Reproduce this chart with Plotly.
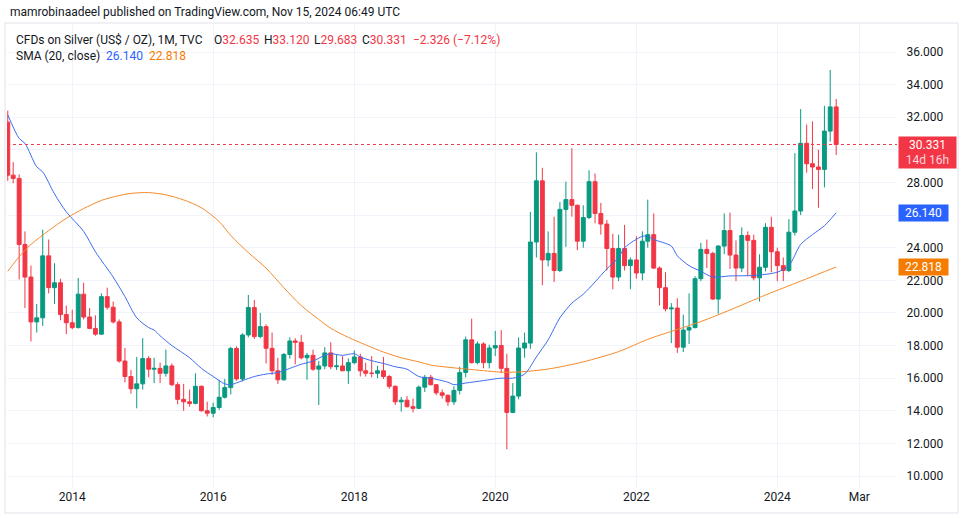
import pandas as pd
import plotly.graph_objects as go

# ---------------- data (monthly, Feb 2013 .. Nov 2024) ----------------
months = pd.date_range("2013-02-01", periods=142, freq="MS")

opens = [
    31.70, 28.45, 28.25, 24.20, 22.20, 19.45, 19.70, 23.50, 21.55, 21.85, 19.90,
    19.40, 19.10, 21.15, 19.75, 19.05, 18.70, 21.00, 20.35, 19.45, 17.05, 16.10, 15.35,
    15.65, 17.20, 16.55, 16.60, 16.30, 16.75, 15.60, 14.70, 14.55, 14.45, 15.50, 14.00,
    13.85, 14.20, 14.83, 15.42, 17.82, 15.95, 18.65, 20.33, 18.55, 19.16, 17.83, 16.45,
    15.90, 17.45, 18.28, 18.20, 17.25, 17.40, 16.55, 16.75, 17.55, 16.70, 16.75, 16.45,
    16.95, 17.30, 16.45, 16.30, 16.30, 16.45, 16.10, 15.50, 14.55, 14.65, 14.25, 14.15,
    15.45, 16.05, 15.60, 15.10, 14.95, 14.55, 15.25, 16.35, 18.35, 16.95, 18.10, 16.95,
    17.85, 18.00, 16.60, 13.90, 14.90, 17.85, 18.15, 24.35, 28.10, 23.25, 23.65, 22.60,
    26.35, 26.95, 26.60, 24.40, 25.85, 28.05, 26.10, 25.45, 23.95, 22.20, 23.95, 22.90,
    23.25, 22.45, 24.40, 24.80, 22.75, 21.55, 20.25, 20.30, 17.90, 18.95, 19.10, 22.10,
    23.90, 23.65, 20.85, 24.10, 25.05, 23.55, 22.75, 24.75, 24.45, 22.15, 22.80, 25.25,
    23.75, 22.90, 22.60, 24.95, 26.25, 30.40, 29.15, 28.95, 28.80, 31.15, 32.635,
]
highs = [
    32.40, 29.25, 28.50, 25.00, 22.90, 20.55, 25.10, 24.50, 23.05, 22.10, 20.45,
    20.20, 22.15, 21.85, 20.30, 19.85, 21.20, 21.55, 20.70, 19.60, 17.85, 16.50, 17.30,
    18.45, 17.35, 17.25, 16.95, 17.75, 16.90, 15.75, 15.65, 15.30, 16.30, 15.55, 14.55,
    14.50, 15.90, 15.95, 17.92, 17.95, 18.75, 21.10, 20.80, 20.00, 19.30, 18.80, 17.25,
    17.55, 18.50, 18.45, 18.65, 17.55, 17.75, 17.05, 17.90, 18.20, 17.45, 17.35, 17.20,
    17.70, 17.50, 16.95, 17.35, 16.75, 17.30, 16.20, 15.55, 14.85, 14.90, 14.75, 15.55,
    16.20, 16.20, 15.60, 15.30, 15.00, 15.50, 16.70, 18.55, 19.65, 18.25, 18.20, 18.05,
    18.90, 18.95, 17.50, 15.70, 18.50, 18.80, 26.20, 29.85, 28.90, 25.00, 25.90, 26.80,
    28.05, 30.10, 26.65, 26.60, 28.75, 28.55, 26.75, 25.70, 24.85, 24.80, 25.40, 23.40,
    24.70, 25.00, 26.95, 26.10, 22.85, 22.50, 20.60, 20.90, 19.90, 21.20, 22.25, 24.30,
    24.50, 23.75, 24.15, 26.10, 26.15, 24.45, 25.25, 25.00, 24.80, 23.60, 25.50, 25.90,
    24.00, 23.40, 25.75, 29.80, 32.50, 31.55, 31.75, 30.00, 32.70, 34.90, 33.120,
]
lows = [
    28.10, 27.95, 22.05, 20.30, 18.25, 18.80, 19.20, 21.20, 20.55, 19.55, 18.70,
    19.00, 19.05, 19.60, 19.00, 18.60, 18.65, 20.20, 19.35, 16.95, 15.75, 15.05, 14.15,
    15.30, 16.05, 15.70, 15.70, 16.10, 15.50, 14.40, 14.00, 14.25, 14.40, 13.95, 13.65,
    13.60, 14.05, 14.75, 15.00, 15.85, 15.80, 18.50, 18.40, 18.45, 16.90, 16.20, 15.65,
    15.85, 17.20, 16.85, 17.15, 15.90, 16.45, 14.35, 16.55, 16.55, 16.50, 16.45, 15.65,
    16.85, 16.10, 16.10, 16.05, 16.00, 15.95, 15.35, 14.35, 13.95, 14.20, 13.90, 14.10,
    15.15, 15.55, 14.95, 14.75, 14.30, 14.35, 15.00, 16.05, 16.90, 16.85, 16.60, 16.60,
    17.35, 16.30, 11.64, 13.85, 14.70, 17.25, 17.80, 23.40, 21.70, 22.85, 21.90, 22.50,
    24.05, 25.90, 23.85, 24.00, 25.75, 25.50, 24.80, 22.60, 21.45, 21.95, 22.60, 21.45,
    22.10, 22.00, 24.00, 22.70, 20.45, 20.10, 18.15, 17.55, 17.60, 18.10, 19.05, 21.95,
    22.75, 20.80, 19.95, 23.60, 22.70, 21.95, 22.50, 22.25, 22.00, 20.70, 22.55, 22.50,
    21.95, 21.95, 22.50, 24.75, 26.00, 28.60, 27.60, 26.45, 27.70, 30.50, 29.683,
]
closes = [
    28.45, 28.25, 24.20, 22.20, 19.45, 19.70, 23.50, 21.55, 21.85, 19.90, 19.40,
    19.10, 21.15, 19.75, 19.05, 18.70, 21.00, 20.35, 19.45, 17.05, 16.10, 15.35, 15.65,
    17.20, 16.55, 16.60, 16.30, 16.75, 15.60, 14.70, 14.55, 14.45, 15.50, 14.00, 13.85,
    14.20, 14.83, 15.42, 17.82, 15.95, 18.65, 20.33, 18.55, 19.16, 17.83, 16.45, 15.90,
    17.45, 18.28, 18.20, 17.25, 17.40, 16.55, 16.75, 17.55, 16.70, 16.75, 16.45, 16.95,
    17.30, 16.45, 16.30, 16.30, 16.45, 16.10, 15.50, 14.55, 14.65, 14.25, 14.15, 15.45,
    16.05, 15.60, 15.10, 14.95, 14.55, 15.25, 16.35, 18.35, 16.95, 18.10, 16.95, 17.85,
    18.00, 16.60, 13.90, 14.90, 17.85, 18.15, 24.35, 28.10, 23.25, 23.65, 22.60, 26.35,
    26.95, 26.60, 24.40, 25.85, 28.05, 26.10, 25.45, 23.95, 22.20, 23.95, 22.90, 23.25,
    22.45, 24.40, 24.80, 22.75, 21.55, 20.25, 20.30, 17.90, 18.95, 19.10, 22.10, 23.90,
    23.65, 20.85, 24.10, 25.05, 23.55, 22.75, 24.75, 24.45, 22.15, 22.80, 25.25, 23.75,
    22.90, 22.60, 24.95, 26.25, 30.40, 29.15, 28.95, 28.80, 31.15, 32.635, 30.331,
]

# SMA lines
sma_dates = [
    "2013-02-01", "2013-04-01", "2013-05-01", "2013-07-01", "2013-08-01", "2013-10-01",
    "2013-12-01", "2014-03-01", "2014-05-01", "2014-08-01", "2014-10-01", "2014-12-01",
    "2015-02-01", "2015-03-01", "2015-04-01", "2015-06-01", "2015-09-01", "2015-11-01",
    "2016-01-01", "2016-03-01", "2016-04-01", "2016-06-01", "2016-08-01", "2016-10-01",
    "2016-12-01", "2017-02-01", "2017-04-01", "2017-06-01", "2017-08-01", "2017-09-01",
    "2017-11-01", "2018-01-01", "2018-02-01", "2018-04-01", "2018-06-01", "2018-08-01",
    "2018-10-01", "2018-12-01", "2019-02-01", "2019-05-01", "2019-06-01", "2019-08-01",
    "2019-11-01", "2020-02-01", "2020-04-01", "2020-06-01", "2020-08-01", "2020-10-01",
    "2020-12-01", "2021-02-01", "2021-04-01", "2021-06-01", "2021-08-01", "2021-10-01",
    "2021-11-01", "2022-02-01", "2022-03-01", "2022-04-01", "2022-07-01", "2022-08-01",
    "2022-10-01", "2022-12-01", "2023-02-01", "2023-05-01", "2023-09-01", "2024-01-01",
    "2024-03-01", "2024-05-01", "2024-07-01", "2024-09-01", "2024-11-01",
]
sma_values = [
    32.15, 30.70, 30.40, 28.96, 28.65, 27.30,
    26.20, 25.00, 23.75, 22.20, 21.00, 19.70,
    19.10, 18.95, 18.60, 18.00, 17.25, 16.60,
    16.10, 15.65, 15.60, 15.85, 16.10, 16.25,
    16.35, 16.60, 16.85, 17.05, 17.40, 17.50,
    17.40, 17.50, 17.30, 17.07, 16.90, 16.70,
    16.55, 16.10, 16.00, 15.75, 15.60, 15.70,
    15.85, 16.00, 16.00, 16.25, 17.30, 18.35,
    19.70, 20.60, 21.15, 21.90, 22.70, 23.40,
    24.00, 24.70, 24.70, 24.50, 24.10, 23.50,
    22.90, 22.55, 22.20, 22.27, 22.30, 22.50,
    22.90, 24.20, 24.80, 25.35, 26.14,
]
smooth_dates = [
    "2013-02-01", "2013-04-01", "2013-06-01", "2013-09-01", "2013-12-01", "2014-03-01",
    "2014-06-01", "2014-09-01", "2014-11-01", "2015-02-01", "2015-05-01", "2015-08-01",
    "2015-11-01", "2016-02-01", "2016-04-01", "2016-07-01", "2016-10-01", "2017-01-01",
    "2017-04-01", "2017-07-01", "2017-09-01", "2017-12-01", "2018-03-01", "2018-06-01",
    "2018-09-01", "2018-12-01", "2019-02-01", "2019-05-01", "2019-08-01", "2019-11-01",
    "2020-02-01", "2020-05-01", "2020-10-01", "2021-04-01", "2021-10-01", "2022-03-01",
    "2022-06-01", "2022-12-01", "2023-05-01", "2023-11-01", "2024-05-01", "2024-11-01",
]
smooth_values = [
    22.55, 23.45, 24.20, 25.05, 25.80, 26.40,
    26.90, 27.20, 27.33, 27.38, 27.24, 26.93,
    26.45, 25.60, 24.75, 23.70, 22.75, 21.55,
    20.45, 19.60, 19.06, 18.50, 18.04, 17.60,
    17.25, 17.00, 16.80, 16.67, 16.56, 16.46,
    16.37, 16.38, 16.56, 17.00, 17.63, 18.38,
    18.75, 19.47, 20.18, 21.10, 21.95, 22.818,
]

y_ticks = [10, 12, 14, 16, 18, 20, 22, 24, 26, 28, 30, 32, 34, 36]
# 26.000 and 30.000 are hidden behind the price-scale labels in the original
y_tick_text = ["10.000", "12.000", "14.000", "16.000", "18.000", "20.000", "22.000",
               "24.000", "", "28.000", "", "32.000", "34.000", "36.000"]
x_tick_dates = ["2014-01-01", "2016-01-01", "2018-01-01", "2020-01-01",
                "2022-01-01", "2024-01-01", "2025-03-01"]
x_tick_text = ["2014", "2016", "2018", "2020", "2022", "2024", "Mar"]

last_close = 30.331
sma_last = 26.140
smooth_last = 22.818

# ---------------- styling ----------------
GREEN = "#089981"
RED = "#F23645"
BLUE = "#2962FF"
ORANGE = "#F57C00"
TXT = "#131722"
GRID = "#F0F3FA"
FONT = "Roboto, 'Open Sans', sans-serif"

W, H = 965, 518
L, R, T, B = 7, 68, 23, 30
PW, PH = W - L - R, H - T - B


def px(xpix):
    return (xpix - L) / PW


def py(ypix):
    return (H - B - ypix) / PH


fig = go.Figure()

fig.add_trace(go.Candlestick(
    x=months, open=opens, high=highs, low=lows, close=closes,
    increasing=dict(line=dict(color=GREEN, width=1), fillcolor=GREEN),
    decreasing=dict(line=dict(color=RED, width=1), fillcolor=RED),
    whiskerwidth=0, showlegend=False, hoverinfo="skip",
))
fig.add_trace(go.Scatter(
    x=smooth_dates, y=smooth_values, mode="lines",
    line=dict(color="#F68A2A", width=1, shape="spline", smoothing=0.8),
    showlegend=False, hoverinfo="skip",
))
fig.add_trace(go.Scatter(
    x=sma_dates, y=sma_values, mode="lines",
    line=dict(color="#3D6CF0", width=1, shape="spline", smoothing=0.8),
    showlegend=False, hoverinfo="skip",
))

annotations = []
# header
annotations.append(dict(
    x=px(8), y=py(12), xref="paper", yref="paper", xanchor="left", yanchor="middle",
    text="mamrobinaadeel published on TradingView.com, Nov 15, 2024 06:49 UTC",
    showarrow=False, font=dict(family=FONT, size=12, color=TXT)))
# legend line 1
annotations.append(dict(
    x=px(14), y=py(40), xref="paper", yref="paper", xanchor="left", yanchor="middle",
    text="CFDs on Silver (US$ / OZ), 1M, TVC", showarrow=False,
    font=dict(family=FONT, size=12, color=TXT)))
for xp, lab, val in [(212, "O", "32.635"), (262, "H", "33.120"),
                     (312, "L", "29.683"), (360, "C", "30.331")]:
    annotations.append(dict(
        x=px(xp), y=py(40), xref="paper", yref="paper", xanchor="left", yanchor="middle",
        text=f"{lab}<span style='color:{RED}'>{val}</span>", showarrow=False,
        font=dict(family=FONT, size=12, color=TXT)))
annotations.append(dict(
    x=px(411), y=py(40), xref="paper", yref="paper", xanchor="left", yanchor="middle",
    text="\u22122.326 (\u22127.12%)", showarrow=False,
    font=dict(family=FONT, size=12, color=RED)))
# legend line 2
annotations.append(dict(
    x=px(14), y=py(56), xref="paper", yref="paper", xanchor="left", yanchor="middle",
    text="SMA (20, close)", showarrow=False, font=dict(family=FONT, size=12, color=TXT)))
annotations.append(dict(
    x=px(104), y=py(56), xref="paper", yref="paper", xanchor="left", yanchor="middle",
    text=f"{sma_last:.3f}", showarrow=False, font=dict(family=FONT, size=12, color=BLUE)))
annotations.append(dict(
    x=px(147), y=py(56), xref="paper", yref="paper", xanchor="left", yanchor="middle",
    text=f"{smooth_last:.3f}", showarrow=False, font=dict(family=FONT, size=12, color=ORANGE)))
# price-scale labels
annotations.append(dict(
    x=px(898), y=last_close, xref="paper", yref="y", xanchor="left", yanchor="top",
    yshift=8,
    text=f"{last_close:.3f}<br><span style='color:#FFD5D9'>14d 16h</span>",
    showarrow=False, bgcolor=RED, borderpad=1, width=55, height=29, align="center",
    font=dict(family=FONT, size=12, color="white")))
annotations.append(dict(
    x=px(898), y=sma_last, xref="paper", yref="y", xanchor="left", yanchor="middle",
    text=f"{sma_last:.3f}", showarrow=False, bgcolor=BLUE, borderpad=1, width=47, height=14,
    font=dict(family=FONT, size=12, color="white")))
annotations.append(dict(
    x=px(898), y=smooth_last, xref="paper", yref="y", xanchor="left", yanchor="middle",
    text=f"{smooth_last:.3f}", showarrow=False, bgcolor=ORANGE, borderpad=1, width=47, height=14,
    font=dict(family=FONT, size=12, color="white")))

shapes = [
    dict(type="line", xref="paper", yref="y", x0=0, x1=1, y0=last_close, y1=last_close,
         line=dict(color=RED, width=1, dash="dot")),
    dict(type="rect", xref="paper", yref="paper", x0=px(5), x1=px(958), y0=py(513), y1=py(23),
         line=dict(color="#E0E3EB", width=1), fillcolor="rgba(0,0,0,0)", layer="below"),
]

fig.update_layout(
    width=W, height=H, margin=dict(l=L, r=R, t=T, b=B),
    paper_bgcolor="white", plot_bgcolor="white",
    boxgap=0.15, boxgroupgap=0.15,
    font=dict(family=FONT, size=12, color=TXT),
    xaxis=dict(
        type="date", range=["2013-01-28", "2025-09-12"],
        tickvals=x_tick_dates, ticktext=x_tick_text,
        showgrid=True, gridcolor=GRID, gridwidth=1, zeroline=False, showline=False,
        ticks="", rangeslider=dict(visible=False),
        tickfont=dict(family=FONT, size=12, color=TXT),
    ),
    yaxis=dict(
        side="right", range=[9.264, 37.78],
        tickvals=y_ticks, ticktext=y_tick_text,
        showgrid=True, gridcolor=GRID, gridwidth=1, zeroline=False, showline=False,
        ticks="outside", ticklen=6, tickcolor="rgba(0,0,0,0)",
        tickfont=dict(family=FONT, size=12, color=TXT),
    ),
    annotations=annotations, shapes=shapes, hovermode=False,
)

fig.write_html("out.html", config={"displayModeBar": False},
               post_script="document.body.style.margin='0';")
